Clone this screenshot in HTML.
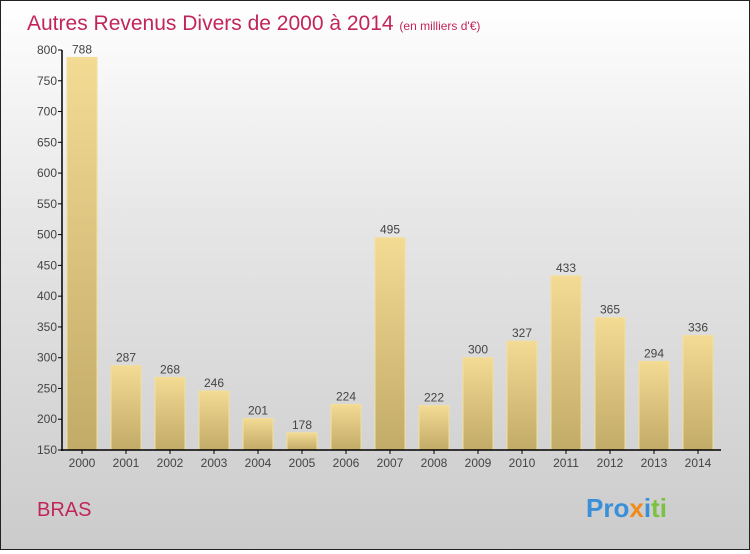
<!DOCTYPE html>
<html><head><meta charset="utf-8"><style>
html,body{margin:0;padding:0}
body{width:750px;height:550px;overflow:hidden;font-family:"Liberation Sans",sans-serif}
#wrap{position:absolute;left:0;top:0;width:748px;height:548px;border:1px solid #222;background:linear-gradient(#ffffff,#e6e6e6 40%,#cbcbcb)}
</style></head><body>
<div id="wrap">
<svg id="chart" width="748" height="548">
<defs><linearGradient id="bg" x1="0" y1="0" x2="0" y2="1"><stop offset="0" stop-color="#f3db94"/><stop offset="1" stop-color="#c2aa68"/></linearGradient></defs>
<text x="26" y="29" font-size="21" fill="#c2255c">Autres Revenus Divers de 2000 à 2014 <tspan font-size="12">(en milliers d'€)</tspan></text>
<text x="36" y="515" font-size="20" fill="#c2255c">BRAS</text>
<g font-size="26" font-weight="bold">
<text x="585" y="516"><tspan fill="#3a8fd8">Pro</tspan><tspan fill="#f08a1c">x</tspan><tspan fill="#3a8fd8">i</tspan><tspan fill="#7cc242">ti</tspan></text></g>
<g id="plot"></g>
</svg></div>
<script>
const years=["2000","2001","2002","2003","2004","2005","2006","2007","2008","2009","2010","2011","2012","2013","2014"];
const values=[788,287,268,246,201,178,224,495,222,300,327,433,365,294,336];
const yTicks=[150,200,250,300,350,400,450,500,550,600,650,700,750,800];
const NS="http://www.w3.org/2000/svg";
const g=document.getElementById('plot');
const y0=449,y1=49,vmin=150,vmax=800;
const yScale=v=>y0-(v-vmin)/(vmax-vmin)*(y0-y1);
const xScale=i=>81+i*44;
function mk(t,a){const e=document.createElementNS(NS,t);for(const k in a)e.setAttribute(k,a[k]);g.appendChild(e);return e;}
yTicks.forEach(t=>{
 const l=mk('line',{x1:57,x2:61,y1:yScale(t),y2:yScale(t),stroke:'#000'});
 
 
 const tx=mk('text',{x:56,y:yScale(t)+4,'text-anchor':'end','font-size':12,fill:'#444'});
 tx.textContent=t;
 
 
});
values.forEach((v,i)=>{
 const cx=xScale(i);
 const r=mk('rect',{x:cx-15,y:yScale(v),width:30,height:y0-yScale(v),fill:'url(#bg)',stroke:'#f3df9c','stroke-width':1});
 
 
 const lb=mk('text',{x:cx,y:yScale(v)-4,'text-anchor':'middle','font-size':12,fill:'#444'});
 lb.textContent=v;
 
 
 const tk=mk('line',{x1:cx,x2:cx,y1:y0,y2:y0+4,stroke:'#000'});
 
 
 const xl=mk('text',{x:cx,y:466,'text-anchor':'middle','font-size':12,fill:'#444'});
 xl.textContent=years[i];
 
 
});
const ya=mk('line',{x1:61,x2:61,y1:y1,y2:y0+1,stroke:'#000','stroke-width':1.5});


const xa=mk('line',{x1:60,x2:720,y1:y0,y2:y0,stroke:'#000','stroke-width':1.5});


</script>
</body></html>
